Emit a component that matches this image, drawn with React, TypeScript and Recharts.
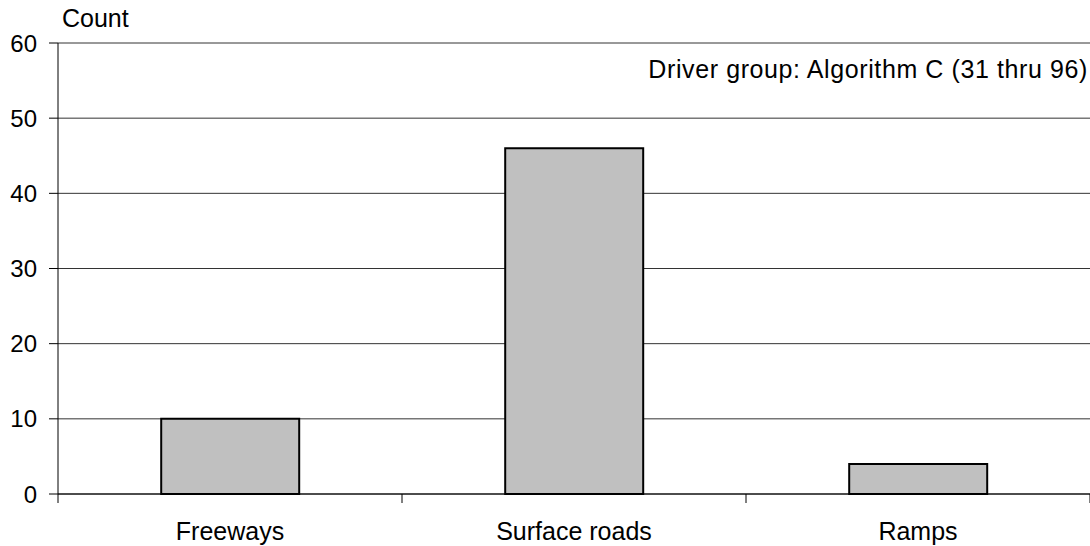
import { BarChart, Bar, XAxis, YAxis, CartesianGrid } from "recharts";

const categories = ["Freeways", "Surface roads", "Ramps"];
const counts = [10, 46, 4];
const yTicks = [0, 10, 20, 30, 40, 50, 60];

const FONT = "'Liberation Sans', Arial, sans-serif";

// label plus tick marks on the band edges (left edge, and right edge for the last one)
function CategoryTick(props: any) {
  const { x, y, payload, index, visibleTicksCount } = props;
  const half = payload?.offset ?? 0;
  const last = index === visibleTicksCount - 1;
  return (
    <g>
      <line x1={x - half} x2={x - half} y1={y} y2={y + 9} stroke="#000" />
      {last && <line x1={x + half} x2={x + half} y1={y} y2={y + 9} stroke="#000" />}
      <text
        x={x}
        y={y + 28}
        dy="0.71em"
        textAnchor="middle"
        fill="#000"
        fontSize={25}
        fontFamily={FONT}
      >
        {payload.value}
      </text>
    </g>
  );
}

export default function App() {
  const data = categories.map((name, i) => ({ name, count: counts[i] }));

  return (
    <div
      style={{
        position: "absolute",
        left: 0,
        top: 0,
        width: 1090,
        height: 546,
        background: "#fff",
        fontFamily: FONT,
      }}
    >
      <BarChart
        width={1090}
        height={546}
        data={data}
        margin={{ top: 43, right: 0, bottom: 0, left: 0 }}
        barCategoryGap="30%"
      >
        <CartesianGrid vertical={false} stroke="#333" strokeWidth={1} />
        <XAxis
          dataKey="name"
          height={52}
          tickLine={false}
          tickSize={0}
          tickMargin={0}
          axisLine={{ stroke: "#000" }}
          tick={<CategoryTick />}
          interval={0}
        />
        <YAxis
          domain={[0, 60]}
          ticks={yTicks}
          width={58}
          tickSize={9}
          tickMargin={12}
          axisLine={{ stroke: "#000" }}
          tickLine={{ stroke: "#000" }}
          tick={{ fill: "#000", fontSize: 24, fontFamily: FONT }}
        />
        <Bar
          dataKey="count"
          fill="#c0c0c0"
          stroke="#000"
          strokeWidth={2}
          isAnimationActive={false}
        />
      </BarChart>
      <div
        style={{
          position: "absolute",
          left: 62,
          top: 6,
          fontSize: 25,
          lineHeight: "25px",
          color: "#000",
        }}
      >
        Count
      </div>
      <div
        style={{
          position: "absolute",
          right: 2,
          top: 57,
          fontSize: 25,
          lineHeight: "25px",
          letterSpacing: "0.6px",
          color: "#000",
          whiteSpace: "nowrap",
        }}
      >
        Driver group: Algorithm C (31 thru 96)
      </div>
    </div>
  );
}
